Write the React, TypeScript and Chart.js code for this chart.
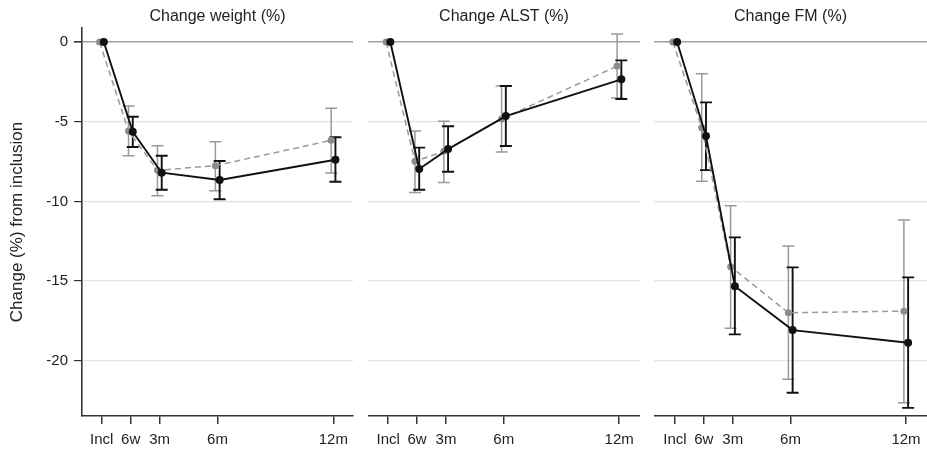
import { useEffect, useRef } from "react";
import { Chart, registerables } from "chart.js";

Chart.register(...registerables);

const timeLabels = ["Incl", "6w", "3m", "6m", "12m"];
const timePoints = [0, 1.5, 3, 6, 12];
const yTickValues = [-20, -15, -10, -5, 0];
const panelTitles = ["Change weight (%)", "Change ALST (%)", "Change FM (%)"];
const yAxisTitle = "Change (%) from inclusion";

// Change weight (%)
const weightBlack = [0, -5.63, -8.2, -8.66, -7.39];
const weightBlackLow = [null, -6.59, -9.27, -9.87, -8.77];
const weightBlackHigh = [null, -4.69, -7.14, -7.47, -5.98];
const weightGray = [0, -5.59, -8.05, -7.76, -6.17];
const weightGrayLow = [null, -7.14, -9.65, -9.33, -8.22];
const weightGrayHigh = [null, -4.02, -6.51, -6.26, -4.16];

// Change ALST (%)
const alstBlack = [0, -7.97, -6.72, -4.65, -2.34];
const alstBlackLow = [null, -9.27, -8.14, -6.53, -3.58];
const alstBlackHigh = [null, -6.63, -5.29, -2.76, -1.15];
const alstGray = [0, -7.49, -6.86, -4.83, -1.51];
const alstGrayLow = [null, -9.44, -8.81, -6.9, -3.52];
const alstGrayHigh = [null, -5.59, -4.98, -2.76, 0.5];

// Change FM (%)
const fmBlack = [0, -5.9, -15.32, -18.08, -18.87];
const fmBlackLow = [null, -8.04, -18.35, -22.01, -22.96];
const fmBlackHigh = [null, -3.79, -12.26, -14.14, -14.77];
const fmGray = [0, -5.38, -14.1, -16.99, -16.89];
const fmGrayLow = [null, -8.73, -17.97, -21.16, -22.64];
const fmGrayHigh = [null, -1.99, -10.27, -12.8, -11.17];

const FONT = '"Liberation Sans", Arial, Helvetica, sans-serif';
const TEXT = "#222";
const BLACK = "#111";
const GRAY_LINE = "#9a9a9a";
const GRAY_POINT = "#8c8c8c";
const DODGE = 0.11;

type Series = {
  mean: (number | null)[];
  low: (number | null)[];
  high: (number | null)[];
  color: string;
  width: number;
  dx: number;
};

type Panel = {
  title: string;
  left: number;
  width: number;
  padRight: number;
  yAxisWidth: number;
  showY: boolean;
  xMin: number;
  xMax: number;
  black: Series;
  gray: Series;
};

const mk = (mean: any[], low: any[], high: any[], color: string, width: number, dx: number): Series => ({
  mean, low, high, color, width, dx,
});

const panels: Panel[] = [
  {
    title: panelTitles[0], left: 0, width: 360, padRight: 7, yAxisWidth: 82, showY: true,
    xMin: -1.02, xMax: 13.02,
    black: mk(weightBlack, weightBlackLow, weightBlackHigh, BLACK, 1.9, DODGE),
    gray: mk(weightGray, weightGrayLow, weightGrayHigh, GRAY_LINE, 1.5, -DODGE),
  },
  {
    title: panelTitles[1], left: 368, width: 272, padRight: 0, yAxisWidth: 0, showY: false,
    xMin: -1.05, xMax: 13.08,
    black: mk(alstBlack, alstBlackLow, alstBlackHigh, BLACK, 1.9, DODGE),
    gray: mk(alstGray, alstGrayLow, alstGrayHigh, GRAY_LINE, 1.5, -DODGE),
  },
  {
    title: panelTitles[2], left: 654, width: 273, padRight: 0, yAxisWidth: 0, showY: false,
    xMin: -1.09, xMax: 13.09,
    black: mk(fmBlack, fmBlackLow, fmBlackHigh, BLACK, 1.9, DODGE),
    gray: mk(fmGray, fmGrayLow, fmGrayHigh, GRAY_LINE, 1.5, -DODGE),
  },
];

function makeErrorBarPlugin(list: Series[]) {
  return {
    id: "errorBars",
    beforeDatasetsDraw(chart: any) {
      const { ctx, scales } = chart;
      const xs = scales.x;
      const ys = scales.y;
      ctx.save();
      for (const s of list) {
        ctx.strokeStyle = s.color;
        ctx.lineWidth = s.width;
        for (let i = 0; i < timePoints.length; i++) {
          const lo = s.low[i];
          const hi = s.high[i];
          if (lo == null || hi == null) continue;
          const px = xs.getPixelForValue(timePoints[i] + s.dx);
          const pLo = ys.getPixelForValue(lo);
          const pHi = ys.getPixelForValue(hi);
          const cap = 6;
          ctx.beginPath();
          ctx.moveTo(px, pLo);
          ctx.lineTo(px, pHi);
          ctx.moveTo(px - cap, pLo);
          ctx.lineTo(px + cap, pLo);
          ctx.moveTo(px - cap, pHi);
          ctx.lineTo(px + cap, pHi);
          ctx.stroke();
        }
      }
      ctx.restore();
    },
  };
}

function makeTitlePlugin(title: string) {
  return {
    id: "panelTitle",
    afterDraw(chart: any) {
      const { ctx, chartArea } = chart;
      ctx.save();
      ctx.font = `16px ${FONT}`;
      ctx.fillStyle = TEXT;
      ctx.textAlign = "center";
      ctx.textBaseline = "middle";
      ctx.fillText(title, (chartArea.left + chartArea.right) / 2, 16.5);
      ctx.restore();
    },
  };
}

function PanelChart({ panel }: { panel: Panel }) {
  const ref = useRef<HTMLCanvasElement | null>(null);

  useEffect(() => {
    if (!ref.current) return;
    const toPts = (s: Series) => s.mean.map((v, i) => ({ x: timePoints[i] + s.dx, y: v as number }));
    const chart = new Chart(ref.current, {
      type: "line",
      data: {
        datasets: [
          {
            label: "black",
            data: toPts(panel.black),
            borderColor: BLACK,
            borderWidth: 1.9,
            pointRadius: 4,
            pointBackgroundColor: BLACK,
            pointBorderColor: BLACK,
            pointBorderWidth: 0,
            tension: 0,
            fill: false,
          },
          {
            label: "gray",
            data: toPts(panel.gray),
            borderColor: GRAY_LINE,
            borderWidth: 1.5,
            borderDash: [6, 4],
            pointRadius: 3.5,
            pointBackgroundColor: GRAY_POINT,
            pointBorderColor: GRAY_POINT,
            pointBorderWidth: 0,
            tension: 0,
            fill: false,
          },
        ],
      },
      options: {
        animation: false,
        responsive: false,
        devicePixelRatio: 1,
        events: [],
        layout: { autoPadding: false, padding: { top: 28, right: panel.padRight, left: 0, bottom: 0 } },
        plugins: {
          legend: { display: false },
          tooltip: { enabled: false },
          title: { display: false },
        },
        scales: {
          x: {
            type: "linear",
            min: panel.xMin,
            max: panel.xMax,
            afterBuildTicks: (scale: any) => {
              scale.ticks = timePoints.map((v) => ({ value: v }));
            },
            afterFit: (scale: any) => {
              scale.height = 33;
              scale.paddingLeft = 0;
              scale.paddingRight = 0;
            },
            ticks: {
              autoSkip: false,
              maxRotation: 0,
              minRotation: 0,
              padding: 7,
              color: TEXT,
              font: { family: FONT, size: 15 },
              callback: (_v: any, i: number) => timeLabels[i],
            },
            grid: {
              drawOnChartArea: false,
              drawTicks: true,
              tickLength: 8,
              color: "#333",
              tickColor: "#333",
              lineWidth: 1.5,
            },
            border: { display: true, color: "#333", width: 1.6 },
          },
          y: {
            type: "linear",
            min: -23.47,
            max: 0.88,
            afterBuildTicks: (scale: any) => {
              scale.ticks = yTickValues.map((v) => ({ value: v }));
            },
            afterFit: (scale: any) => {
              scale.width = panel.yAxisWidth;
              scale.paddingTop = 0;
              scale.paddingBottom = 0;
            },
            ticks: {
              display: panel.showY,
              padding: 6,
              color: TEXT,
              font: { family: FONT, size: 15 },
              callback: (v: any) => String(v),
            },
            grid: {
              drawTicks: panel.showY,
              tickLength: 8,
              tickColor: "#333",
              color: (c: any) => (c.tick && c.tick.value === 0 ? "#a0a0a0" : "#e3e3e3"),
              lineWidth: (c: any) => (c.tick && c.tick.value === 0 ? 1.6 : 1.2),
            },
            border: { display: panel.showY, color: "#333", width: 1.6 },
            title: {
              display: panel.showY,
              text: yAxisTitle,
              color: TEXT,
              font: { family: FONT, size: 17 },
              padding: { top: 7, bottom: 0 },
            },
          },
        },
      },
      plugins: [makeErrorBarPlugin([panel.gray, panel.black]), makeTitlePlugin(panel.title)],
    } as any);
    return () => chart.destroy();
  }, [panel]);

  return (
    <canvas
      ref={ref}
      width={panel.width}
      height={449}
      style={{ position: "absolute", left: panel.left, top: 0, width: panel.width, height: 449 }}
    />
  );
}

export default function App() {
  return (
    <div
      style={{
        position: "absolute",
        left: 0,
        top: 0,
        width: 927,
        height: 449,
        background: "#fff",
        overflow: "hidden",
      }}
    >
      {panels.map((p, i) => (
        <PanelChart key={i} panel={p} />
      ))}
    </div>
  );
}
